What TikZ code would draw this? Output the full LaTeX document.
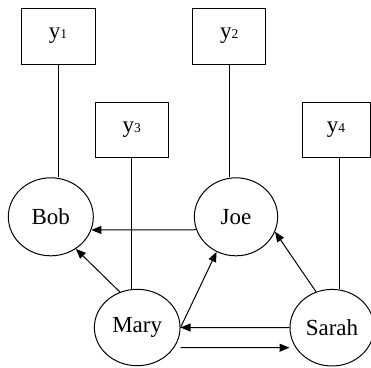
\documentclass[tikz,border=0pt]{standalone}
\usepackage{fontspec}
\setmainfont{Liberation Serif}
\usetikzlibrary{shapes.geometric,arrows.meta}
\newcommand{\ylab}[1]{\fontsize{23}{23}\selectfont y{\fontsize{13.5}{13.5}\selectfont #1}}
\begin{document}
\begin{tikzpicture}[x=1pt,y=-1pt,
  obsbox/.style={draw,line width=1pt,rectangle,inner sep=0pt,minimum width=74pt,minimum height=56pt},
  person/.style={draw,line width=1pt,ellipse,inner sep=0pt,minimum width=85pt,minimum height=78pt,font=\fontsize{23}{23}\selectfont},
  link/.style={line width=1pt},
  arr/.style={line width=1pt,-{Triangle[length=10pt,width=8pt]}}]
\useasboundingbox (0,0) rectangle (371,367);
\node[obsbox] (y1) at (58,36) {\ylab{1}};
\node[obsbox,minimum width=73.3pt] (y2) at (229.3,36) {\ylab{2}};
\node[obsbox,minimum width=73.3pt,minimum height=55.3pt] (y3) at (131.7,130) {\ylab{3}};
\node[obsbox,minimum width=68pt,minimum height=55.3pt] (y4) at (336,130) {\ylab{4}};
\node[person] (Bob) at (50.8,216.8) {Bob};
\node[person,minimum width=83.3pt] (Joe) at (236,216.8) {Joe};
\node[person,minimum width=85.7pt,minimum height=76.4pt] (Mary) at (137.2,327.5) {Mary};
\node[person,minimum width=84pt,minimum height=76.6pt] (Sarah) at (332,327.7) {Sarah};
% observation links
\draw[link] (y1.south) -- (y1.south |- Bob.north);
\draw[link] (y2.south) -- (y2.south |- Joe.north);
\draw[link] (y3.south) -- (y3.south |- Mary.north);
\draw[link] ([xshift=3pt]y4.south) -- ([xshift=3pt]y4.south |- Sarah.north);
% arrows
\draw[arr] (Joe.198.6) -- (Bob.-18.3);
\draw[arr] (Mary.116) -- (Bob.-52.3);
\draw[arr] (Mary.0) -- (Joe.241);
\draw[arr] (Sarah.114.9) -- (Joe.-21.8);
\draw[arr] (Sarah.west) -- (Mary.east);
\draw[arr] ([yshift=-20pt]Mary.east) -- ([yshift=-20pt]Sarah.west);
\end{tikzpicture}
\end{document}
